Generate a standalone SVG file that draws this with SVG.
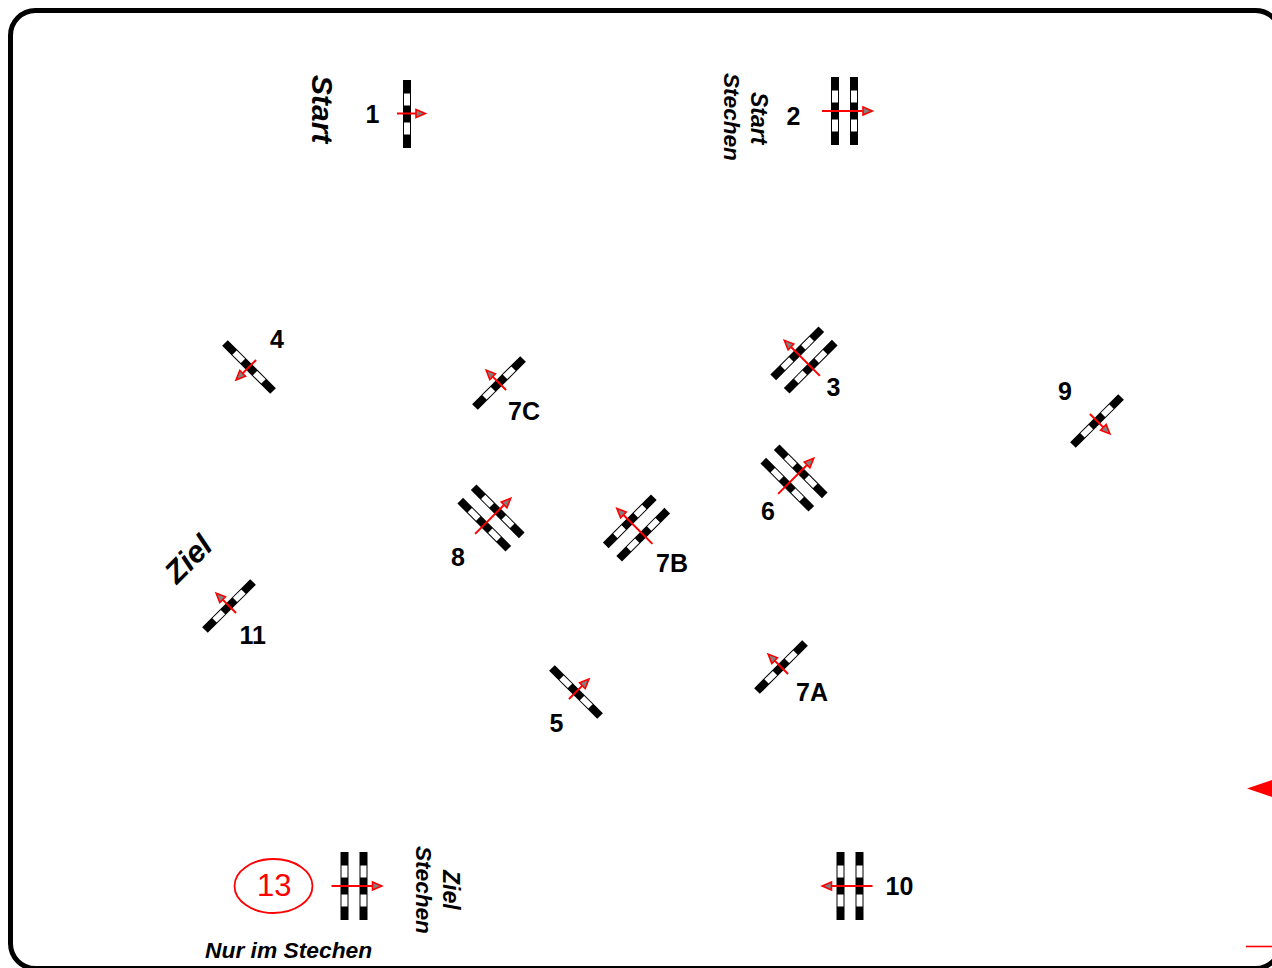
<svg xmlns="http://www.w3.org/2000/svg" xmlns:xlink="http://www.w3.org/1999/xlink" width="1272" height="968" viewBox="0 0 1272 968">
<style>
.n{font:bold 25px "Liberation Sans",Arial,sans-serif;fill:#000}
.t{font-family:"Liberation Sans",Arial,sans-serif;font-weight:bold;font-style:italic;fill:#000}
.l{fill:none;stroke:#f00;stroke-width:2}
.h{fill:#808080;stroke:#f00;stroke-width:1.6;stroke-linejoin:miter}
</style>
<defs>
<g id="bar"><rect x="-4" y="-34" width="8" height="68" fill="#000"/><rect x="-3" y="-20.5" width="6" height="12" fill="#fff"/><rect x="-3" y="8.5" width="6" height="12" fill="#fff"/></g>
<g id="g1"><use href="#bar"/></g>
<g id="g2"><use href="#bar" x="-9.5"/><use href="#bar" x="9.5"/></g>
<g id="a1"><path class="l" d="M-10 0H9"/><path class="h" d="M18.3 0L9 -4V4Z"/></g>
<g id="a2"><path class="l" d="M-22.5 0H18"/><path class="h" d="M27.8 0L18.5 -4V4Z"/></g>
</defs>
<rect id="frame" x="10.5" y="10.5" width="1270" height="958" rx="25" ry="25" fill="#fff" stroke="#000" stroke-width="5"/>
<g id="node-1"><use href="#g1" transform="translate(407 114)"/><text class="n" x="365.5" y="123">1</text></g>
<g id="node-2"><use href="#g2" transform="translate(844.5 111)"/><text class="n" x="786.5" y="125">2</text></g>
<g id="node-3"><use href="#g2" transform="translate(804 360) rotate(-135)"/><text class="n" x="826.5" y="396">3</text></g>
<g id="node-4"><use href="#g1" transform="translate(249 367) rotate(135)"/><text class="n" x="270" y="348">4</text></g>
<g id="node-5"><use href="#g1" transform="translate(576 692) rotate(-45)"/><text class="n" x="549.5" y="732">5</text></g>
<g id="node-6"><use href="#g2" transform="translate(794 478) rotate(-45)"/><text class="n" x="761" y="520">6</text></g>
<g id="node-7A"><use href="#g1" transform="translate(781 667) rotate(-135)"/><text class="n" x="796" y="701">7A</text></g>
<g id="node-7B"><use href="#g2" transform="translate(636.5 528) rotate(-135)"/><text class="n" x="656" y="572">7B</text></g>
<g id="node-7C"><use href="#g1" transform="translate(499 383) rotate(-135)"/><text class="n" x="508" y="420">7C</text></g>
<g id="node-8"><use href="#g2" transform="translate(491 518) rotate(-45)"/><text class="n" x="451" y="566">8</text></g>
<g id="node-9"><use href="#g1" transform="translate(1097 421) rotate(45)"/><text class="n" x="1058" y="400">9</text></g>
<g id="node-10"><use href="#g2" transform="translate(850 886) rotate(180)"/><text class="n" x="885.5" y="895">10</text></g>
<g id="node-11"><use href="#g1" transform="translate(229 606) rotate(-135)"/><text class="n" x="239.5" y="644">11</text></g>
<g id="node-13"><use href="#g2" transform="translate(354 886)"/><ellipse cx="273.5" cy="886" rx="39" ry="27" fill="none" stroke="#f00" stroke-width="1.8"/><text x="257" y="896" font-family="Liberation Sans, Arial, sans-serif" font-size="31" fill="#f00">13</text></g>
<g id="connectors">
<use href="#a1" transform="translate(407 113.5)"/>
<use href="#a2" transform="translate(844.5 111)"/>
<use href="#a2" transform="translate(804 360) rotate(-135)"/>
<use href="#a1" transform="translate(249 367) rotate(135)"/>
<use href="#a1" transform="translate(576 692) rotate(-45)"/>
<use href="#a2" transform="translate(794 478) rotate(-45)"/>
<use href="#a1" transform="translate(781 667) rotate(-135)"/>
<use href="#a2" transform="translate(636.5 528) rotate(-135)"/>
<use href="#a1" transform="translate(499 383) rotate(-135)"/>
<use href="#a2" transform="translate(491 518) rotate(-45)"/>
<use href="#a1" transform="translate(1097 421) rotate(45)"/>
<use href="#a2" transform="translate(850 886) rotate(180)"/>
<use href="#a1" transform="translate(229 606) rotate(-135)"/>
<use href="#a2" transform="translate(354 886)"/>
</g>
<g id="captions">
<text class="t" font-size="30" transform="translate(312 75) rotate(90)">Start</text>
<text class="t" font-size="23" transform="translate(750.5 92) rotate(90)">Start</text>
<text class="t" font-size="22.6" transform="translate(723.5 73) rotate(90)">Stechen</text>
<text class="t" font-size="30.5" transform="translate(177 585) rotate(-45)">Ziel</text>
<text class="t" font-size="23" transform="translate(443 870) rotate(90)">Ziel</text>
<text class="t" font-size="22.6" transform="translate(416 846) rotate(90)">Stechen</text>
<text class="t" font-size="22.8" x="205" y="958">Nur im Stechen</text>
</g>
<g id="legend-fragment">
<path d="M1247 788.5L1272 780V797Z" fill="#f00"/>
<path d="M1246 946.5H1272" stroke="#f00" stroke-width="1.6" fill="none"/>
</g>
</svg>
